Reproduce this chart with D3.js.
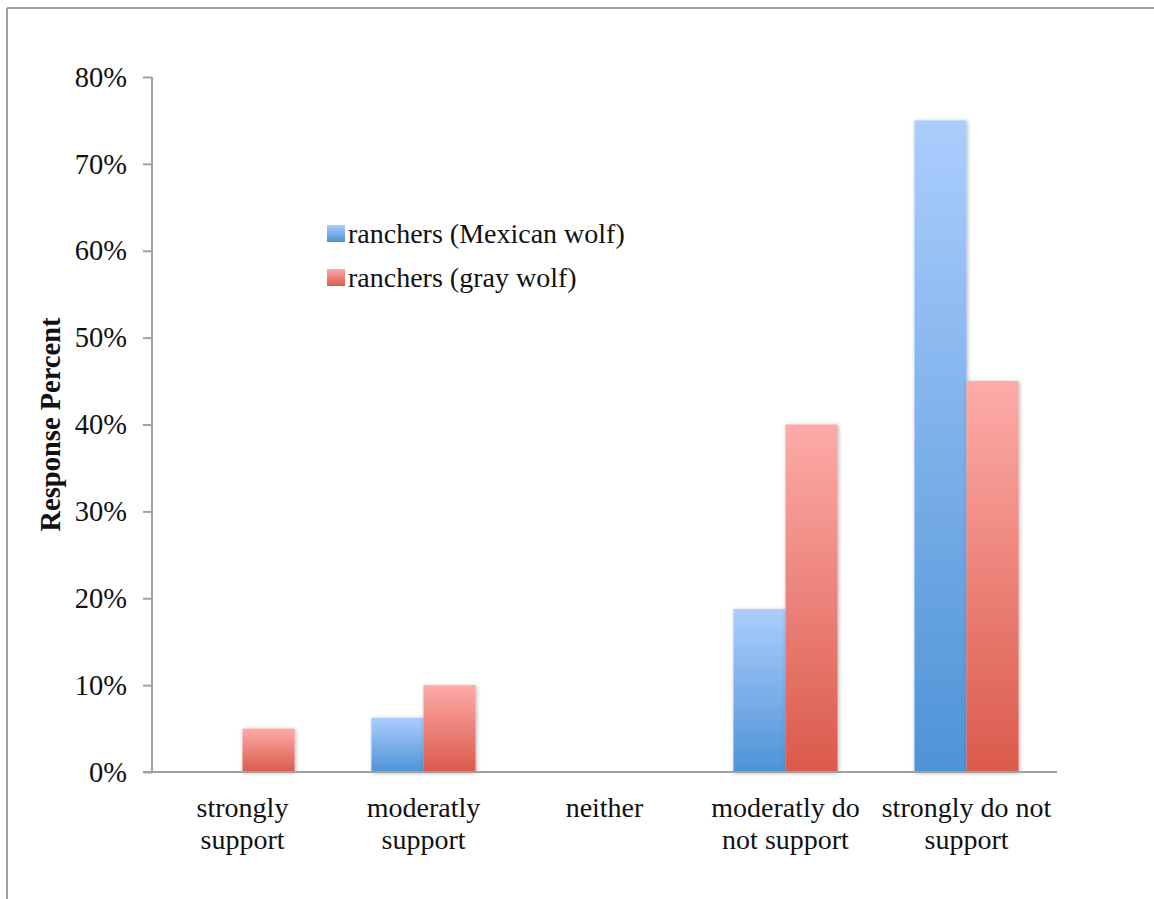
<!DOCTYPE html>
<html>
<head>
<meta charset="utf-8">
<script src="https://cdn.jsdelivr.net/npm/d3@7"></script>
<style>
  body { margin: 0; background: #fff; }
  text { font-family: "Liberation Serif", "DejaVu Serif", serif; fill: #111; }
</style>
</head>
<body>
<div id="chart"></div>
<script>
// Chart data
const categories = [
    ['strongly', 'support'],
    ['moderatly', 'support'],
    ['neither'],
    ['moderatly do', 'not support'],
    ['strongly do not', 'support']
];
const seriesNames = ['ranchers (Mexican wolf)', 'ranchers (gray wolf)'];
const mexicanWolf = [0, 6.25, 0, 18.75, 75];
const grayWolf = [5, 10, 0, 40, 45];
const yTicks = [0, 10, 20, 30, 40, 50, 60, 70, 80];

const width = 1154;
const height = 899;
const margin = { left: 152, right: 97, top: 77, bottom: 127 };
const plotW = width - margin.left - margin.right;
const plotH = height - margin.top - margin.bottom;

const svg = d3.select('#chart')
    .append('svg')
    .attr('width', width)
    .attr('height', height);

const defs = svg.append('defs');

// vertical gradients, light at the top of each bar
const gradients = [
    { id: 'gradBlue', top: '#abcdfd', bottom: '#4e93d7' },
    { id: 'gradRed', top: '#fdaba8', bottom: '#db5a4b' }
];
gradients.forEach(g => {
    const lg = defs.append('linearGradient')
        .attr('id', g.id)
        .attr('x1', 0).attr('y1', 0)
        .attr('x2', 0).attr('y2', 1);
    lg.append('stop').attr('offset', '0%').attr('stop-color', g.top);
    lg.append('stop').attr('offset', '100%').attr('stop-color', g.bottom);
});

const shadow = defs.append('filter')
    .attr('id', 'shadow')
    .attr('x', '-20%').attr('y', '-10%')
    .attr('width', '140%').attr('height', '120%');
shadow.append('feDropShadow')
    .attr('dx', 1).attr('dy', 1)
    .attr('stdDeviation', 2)
    .attr('flood-color', '#000')
    .attr('flood-opacity', 0.3);

// outer frame (top and left edges only visible)
svg.append('line')
    .attr('x1', 7).attr('y1', 8).attr('x2', width).attr('y2', 8)
    .attr('stroke', '#a0a0a0').attr('stroke-width', 2);
svg.append('line')
    .attr('x1', 7).attr('y1', 8).attr('x2', 7).attr('y2', height)
    .attr('stroke', '#a0a0a0').attr('stroke-width', 2);

const g = svg.append('g')
    .attr('transform', `translate(${margin.left},${margin.top})`);

const x0 = d3.scaleBand()
    .domain(d3.range(categories.length))
    .range([0, plotW])
    .paddingInner(0.425)
    .paddingOuter(0.2125);

const x1 = d3.scaleBand()
    .domain([0, 1])
    .range([0, x0.bandwidth()]);

const y = d3.scaleLinear()
    .domain([0, 80])
    .range([plotH, 0]);

const series = [
    { values: mexicanWolf, fill: 'url(#gradBlue)' },
    { values: grayWolf, fill: 'url(#gradRed)' }
];

// bars
series.forEach((s, si) => {
    g.append('g')
        .selectAll('rect')
        .data(s.values.map((v, i) => ({ v, i })).filter(d => d.v > 0))
        .join('rect')
        .attr('x', d => x0(d.i) + x1(si))
        .attr('y', d => y(d.v))
        .attr('width', x1.bandwidth())
        .attr('height', d => y(0) - y(d.v))
        .attr('fill', s.fill)
        .attr('filter', 'url(#shadow)');
});

// y axis
const yAxis = g.append('g')
    .call(d3.axisLeft(y)
        .tickValues(yTicks)
        .tickSize(9)
        .tickPadding(16)
        .tickFormat(d => d + '%'));
yAxis.select('.domain').attr('stroke', '#a0a0a0').attr('stroke-width', 2)
    .attr('d', `M0,${y(80)}V${y(0)}`);
yAxis.selectAll('.tick line').attr('stroke', '#a0a0a0').attr('stroke-width', 2);
yAxis.selectAll('.tick text')
    .attr('font-family', '"Liberation Serif", serif')
    .attr('font-size', 28.5)
    .attr('fill', '#111');

// x axis line
g.append('line')
    .attr('x1', -9).attr('x2', plotW)
    .attr('y1', y(0)).attr('y2', y(0))
    .attr('stroke', '#a0a0a0').attr('stroke-width', 2);

// category labels
categories.forEach((lines, i) => {
    const t = g.append('text')
        .attr('x', x0(i) + x0.bandwidth() / 2)
        .attr('y', plotH + 45)
        .attr('text-anchor', 'middle')
        .attr('font-size', 28);
    lines.forEach((ln, li) => {
        t.append('tspan')
            .attr('x', x0(i) + x0.bandwidth() / 2)
            .attr('dy', li === 0 ? 0 : 32)
            .text(ln);
    });
});

// y axis title
svg.append('text')
    .attr('transform', `translate(60,${margin.top + plotH / 2}) rotate(-90)`)
    .attr('text-anchor', 'middle')
    .attr('font-size', 28.5)
    .attr('font-weight', 'bold')
    .text('Response Percent');

// legend
const legend = svg.append('g').attr('transform', 'translate(327,225)');
seriesNames.forEach((name, i) => {
    const row = legend.append('g').attr('transform', `translate(0,${i * 44})`);
    row.append('rect')
        .attr('width', 18).attr('height', 17)
        .attr('fill', series[i].fill);
    row.append('text')
        .attr('x', 21)
        .attr('y', 18)
        .attr('font-size', 28)
        .text(name);
});
</script>
</body>
</html>
